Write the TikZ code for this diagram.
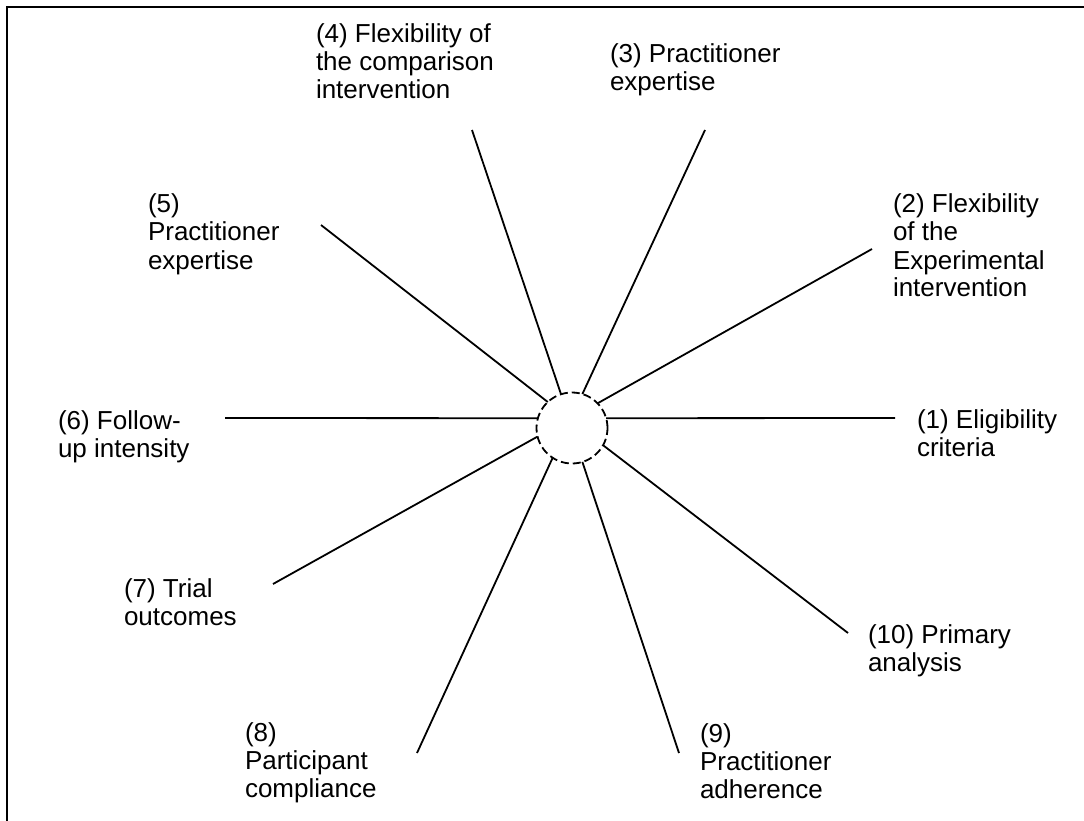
\documentclass[tikz,border=0pt]{standalone}
\usepackage{fontspec}
\setmainfont{Liberation Sans}
\newcommand{\lblstack}[1]{\vtop{\baselineskip=28pt\lineskiplimit=-100pt\lineskip=0pt\halign{##\hfil\cr#1\crcr}}}
\begin{document}
\begin{tikzpicture}[x=1pt,y=-1pt,
  lbl/.style={anchor=base west,inner sep=0pt,outer sep=0pt,font=\fontsize{26}{28}\selectfont},
  conn/.style={line width=1.8pt},
  hub/.style={circle,draw,dash pattern=on 8pt off 4pt,line width=1.8pt,minimum size=71pt,inner sep=0pt,outer sep=0pt},
  frame/.style={line width=2pt}]
\useasboundingbox (0,0) rectangle (1084,821);
\draw[frame] (7,821) -- (7,7.5) -- (1084,7.5);
\node[hub] (c) at (572,428) {};
% outer ends of the spokes
\coordinate (o1) at (895,418);
\coordinate (o2) at (872,249);
\coordinate (o3) at (705,130);
\coordinate (o4) at (472,130);
\coordinate (o5) at (321,225);
\coordinate (o6) at (225,418);
\coordinate (o7) at (273,584);
\coordinate (o8) at (417,753);
\coordinate (o9) at (679,753);
\coordinate (o10) at (848,633);
\draw[conn] (c.16) -- (o1);
\draw[conn] (c.44) -- (o2);
\draw[conn] (c.73) -- (o3);
\draw[conn] (c.108) -- (o4);
\draw[conn] (c.133) -- (o5);
\draw[conn] (c.164) -- (o6);
\draw[conn] (c.194) -- (o7);
\draw[conn] (c.237) -- (o8);
\draw[conn] (c.287) -- (o9);
\draw[conn] (c.331) -- (o10);
% labels
\node[lbl] (t1) at (917,428) {\lblstack{(1) Eligibility\cr criteria}};
\node[lbl] (t2) at (893,213) {\lblstack{(2) Flexibility\cr of the\cr Experimental\cr intervention}};
\node[lbl] (t3) at (610,63) {\lblstack{(3) Practitioner\cr expertise}};
\node[lbl] (t4) at (316,43) {\lblstack{(4) Flexibility of\cr the comparison\cr intervention}};
\node[lbl] (t5) at (148,213) {\lblstack{(5)\cr Practitioner\cr expertise}};
\node[lbl] (t6) at (58,429) {\lblstack{(6) Follow-\cr up intensity}};
\node[lbl] (t7) at (124,597) {\lblstack{(7) Trial\cr outcomes}};
\node[lbl] (t8) at (245,741) {\lblstack{(8)\cr Participant\cr compliance}};
\node[lbl] (t9) at (700,742) {\lblstack{(9)\cr Practitioner\cr adherence}};
\node[lbl] (t10) at (868,643) {\lblstack{(10) Primary\cr analysis}};
\end{tikzpicture}
\end{document}
